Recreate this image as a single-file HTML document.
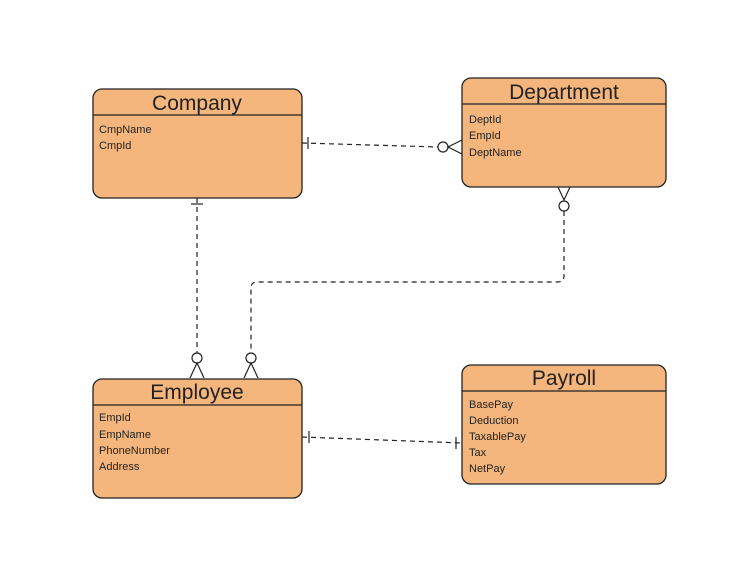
<!DOCTYPE html>
<html><head><style>
html,body{margin:0;padding:0;background:#fff;}
svg{display:block;}
text{font-family:"Liberation Sans",Arial,sans-serif;fill:#222;}
.t{font-size:21px;text-anchor:middle;}
.a{font-size:11px;}
.box{fill:#f4b67c;stroke:#222;stroke-width:1.3;}
.ln{stroke:#222;stroke-width:1.2;fill:none;}
.d{stroke:#222;stroke-width:1.2;fill:none;stroke-dasharray:5,4;}
.c{fill:#fff;stroke:#222;stroke-width:1.2;}
</style></head><body>
<svg width="749" height="577" viewBox="0 0 749 577">
<!-- Company -->
<rect class="box" x="93" y="89" width="209" height="109" rx="9"/>
<line class="ln" x1="93" y1="115" x2="302" y2="115"/>
<text class="t" x="197" y="110">Company</text>
<text class="a" x="99" y="133">CmpName</text>
<text class="a" x="99" y="149">CmpId</text>
<!-- Department -->
<rect class="box" x="462" y="78" width="204" height="109" rx="9"/>
<line class="ln" x1="462" y1="104" x2="666" y2="104"/>
<text class="t" x="564" y="99">Department</text>
<text class="a" x="469" y="123">DeptId</text>
<text class="a" x="469" y="139">EmpId</text>
<text class="a" x="469" y="156">DeptName</text>
<!-- Employee -->
<rect class="box" x="93" y="379" width="209" height="119" rx="9"/>
<line class="ln" x1="93" y1="405" x2="302" y2="405"/>
<text class="t" x="197" y="399">Employee</text>
<text class="a" x="99" y="421">EmpId</text>
<text class="a" x="99" y="438">EmpName</text>
<text class="a" x="99" y="454">PhoneNumber</text>
<text class="a" x="99" y="470">Address</text>
<!-- Payroll -->
<rect class="box" x="462" y="365" width="204" height="119" rx="9"/>
<line class="ln" x1="462" y1="391" x2="666" y2="391"/>
<text class="t" x="564" y="385">Payroll</text>
<text class="a" x="469" y="408">BasePay</text>
<text class="a" x="469" y="424">Deduction</text>
<text class="a" x="469" y="440">TaxablePay</text>
<text class="a" x="469" y="456">Tax</text>
<text class="a" x="469" y="472">NetPay</text>

<!-- Company - Department -->
<line class="d" x1="302" y1="143" x2="438" y2="147"/>
<line class="ln" x1="308" y1="137" x2="308" y2="149"/>
<circle class="c" cx="443" cy="147" r="5"/>
<polyline class="ln" points="462,140 448,147 462,154"/>
<!-- Company - Employee -->
<line class="d" x1="197" y1="198" x2="197" y2="353"/>
<line class="ln" x1="191" y1="204" x2="203" y2="204"/>
<circle class="c" cx="197" cy="358" r="5"/>
<polyline class="ln" points="190,378 197,363 204,378"/>
<!-- Department - Employee -->
<polyline class="ln" points="558,187 564,200 570,187"/>
<circle class="c" cx="564" cy="206" r="5"/>
<path class="d" d="M564 211 V276 Q564 282 558 282 H257 Q251 282 251 288 V353"/>
<circle class="c" cx="251" cy="358" r="5"/>
<polyline class="ln" points="244,378 251,363 258,378"/>
<!-- Employee - Payroll -->
<line class="d" x1="302" y1="437" x2="462" y2="443"/>
<line class="ln" x1="309" y1="431" x2="309" y2="443"/>
<line class="ln" x1="456" y1="437" x2="456" y2="449"/>
</svg>
</body></html>
